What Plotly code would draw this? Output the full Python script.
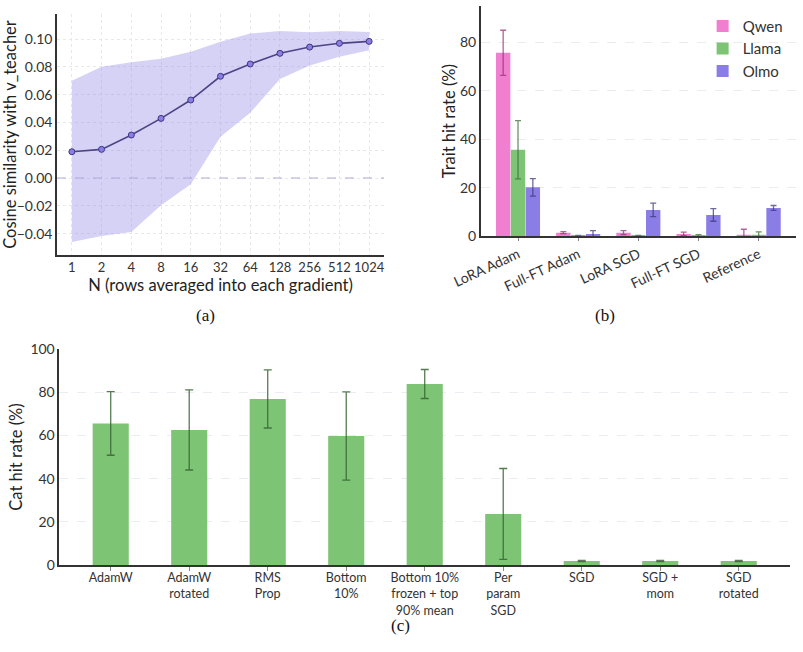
import plotly.graph_objects as go

# ---------- Panel (a) data ----------
n_labels = ["1", "2", "4", "8", "16", "32", "64", "128", "256", "512", "1024"]
cos_mean = [0.0189, 0.0206, 0.0309, 0.0429, 0.0561, 0.0732, 0.0820, 0.0897, 0.0942, 0.0969, 0.0983]
cos_upper = [0.0700, 0.0800, 0.0832, 0.0858, 0.0909, 0.0980, 0.1040, 0.1058, 0.1048, 0.1058, 0.1050]
cos_lower = [-0.0460, -0.0417, -0.0388, -0.0196, -0.0045, 0.0297, 0.0470, 0.0712, 0.0810, 0.0873, 0.0920]

# ---------- Panel (b) data ----------
b_cats = ["LoRA Adam", "Full-FT Adam", "LoRA SGD", "Full-FT SGD", "Reference"]
qwen = [75.7, 1.5, 1.5, 1.0, 0.6]
qwen_err = [9.3, 0.4, 0.8, 0.7, 2.3]
llama = [35.7, 0.2, 0.2, 0.3, 0.6]
llama_err = [12.0, 0.2, 0.2, 0.4, 1.2]
olmo = [20.2, 1.0, 10.9, 8.8, 11.7]
olmo_err = [3.6, 1.3, 2.8, 2.6, 1.0]

# ---------- Panel (c) data ----------
c_cats = ["AdamW", "AdamW<br>rotated", "RMS<br>Prop", "Bottom<br>10%",
          "Bottom 10%<br>frozen + top<br>90% mean", "Per<br>param<br>SGD",
          "SGD", "SGD +<br>mom", "SGD<br>rotated"]
cat_rate = [65.5, 62.5, 76.8, 59.7, 83.7, 23.7, 2.0, 2.0, 2.0]
cat_err = [14.7, 18.5, 13.4, 20.4, 6.7, 21.0, 0.3, 0.3, 0.3]

FONT = "Lato"
PINK = "#f07fd0"
GREEN = "#7dc574"
PURPLE = "#8a7ee6"
AXC = "#333333"

fig = go.Figure()

# (a) band
fig.add_trace(go.Scatter(x=n_labels, y=cos_lower, mode="lines", line=dict(width=0),
                         showlegend=False, hoverinfo="skip", xaxis="x", yaxis="y"))
fig.add_trace(go.Scatter(x=n_labels, y=cos_upper, mode="lines", line=dict(width=0),
                         fill="tonexty", fillcolor="rgba(138,126,230,0.35)",
                         showlegend=False, hoverinfo="skip", xaxis="x", yaxis="y"))
fig.add_trace(go.Scatter(x=n_labels, y=cos_mean, mode="lines+markers",
                         line=dict(color="#4b4585", width=1.6),
                         marker=dict(size=6, color=PURPLE, line=dict(color="#3d3780", width=1)),
                         showlegend=False, xaxis="x", yaxis="y"))

# (b) grouped bars
for name, vals, errs, col, ecol in [
    ("Qwen", qwen, qwen_err, PINK, "rgba(150,50,120,0.75)"),
    ("Llama", llama, llama_err, GREEN, "rgba(60,110,55,0.75)"),
    ("Olmo", olmo, olmo_err, PURPLE, "rgba(60,55,120,0.75)"),
]:
    fig.add_trace(go.Bar(x=b_cats, y=vals, name=name, marker=dict(color=col, line=dict(width=0)),
                         error_y=dict(type="data", array=errs, color=ecol, thickness=1.3, width=3),
                         xaxis="x2", yaxis="y2"))

# (c) bars
fig.add_trace(go.Bar(x=c_cats, y=cat_rate, marker=dict(color=GREEN, line=dict(width=0)),
                     error_y=dict(type="data", array=cat_err, color="rgba(55,100,50,0.85)",
                                  thickness=1.3, width=4),
                     width=0.46, showlegend=False, xaxis="x3", yaxis="y3"))

W, H = 803, 652
def dx(a, b):
    return [a / W, b / W]
def dy(top, bottom):
    return [1 - bottom / H, 1 - top / H]

tickfont = dict(family=FONT, size=14, color=AXC)
titlefont = dict(family=FONT, size=16.5, color="#222222")

fig.update_layout(
    width=W, height=H, margin=dict(l=0, r=0, t=0, b=0, autoexpand=False),
    paper_bgcolor="white", plot_bgcolor="white",
    font=dict(family=FONT, color=AXC),
    barmode="group", bargap=0.26, bargroupgap=0.03,
    xaxis=dict(domain=dx(57, 384), anchor="y", type="category", range=[-0.5, 10.5],
               automargin=False, tickangle=0,
               showline=True, linecolor=AXC, linewidth=1.5, ticks="",
               showgrid=True, gridcolor="#e8e8e8", griddash="dot", gridwidth=1,
               tickfont=dict(family=FONT, size=13, color=AXC),
               title=dict(text="N (rows averaged into each gradient)", font=titlefont, standoff=5)),
    yaxis=dict(domain=dy(14, 255), anchor="x", range=[-0.0554, 0.118], automargin=False,
               tickvals=[-0.04, -0.02, 0.0, 0.02, 0.04, 0.06, 0.08, 0.10], tickformat=".2f",
               showline=True, linecolor=AXC, linewidth=1.5, ticks="", zeroline=False,
               showgrid=True, gridcolor="#e8e8e8", griddash="dot", gridwidth=1,
               tickfont=tickfont, title=dict(text="Cosine similarity with v_teacher",
                                             font=titlefont, standoff=4)),
    xaxis2=dict(domain=dx(480.7, 796), anchor="y2", range=[-0.62, 4.62], automargin=False,
                showline=True, linecolor=AXC, linewidth=1.5, ticks="outside", ticklen=3,
                tickcolor="#888888", tickangle=-25, showgrid=False, tickfont=tickfont),
    yaxis2=dict(domain=dy(6, 236.3), anchor="x2", range=[0, 95], tickvals=[0, 20, 40, 60, 80],
                automargin=False,
                showline=True, linecolor=AXC, linewidth=1.5, ticks="", zeroline=False,
                showgrid=True, gridcolor="#ececec", griddash="dash", gridwidth=1,
                tickfont=tickfont, title=dict(text="Trait hit rate (%)", font=titlefont, standoff=0)),
    xaxis3=dict(domain=dx(59.3, 790), anchor="y3", range=[-0.655, 8.653], automargin=False,
                showline=True, linecolor=AXC, linewidth=1.5, ticks="outside", ticklen=4,
                tickcolor="#888888", showgrid=False, ticklabelstandoff=-4,
                tickfont=dict(family=FONT, size=12.5, color=AXC)),
    yaxis3=dict(domain=dy(348.7, 565.3), anchor="x3", range=[0, 100], automargin=False,
                tickvals=[0, 20, 40, 60, 80, 100],
                showline=True, linecolor=AXC, linewidth=1.5, ticks="", zeroline=False,
                showgrid=True, gridcolor="#ececf4", griddash="dash", gridwidth=1,
                tickfont=tickfont, title=dict(text="Cat hit rate (%)", font=titlefont, standoff=4)),
    legend=dict(x=0.875, y=0.985, xanchor="left", yanchor="top", bgcolor="rgba(0,0,0,0)",
                traceorder="normal",
                font=dict(family=FONT, size=15, color=AXC), itemwidth=30, tracegroupgap=2),
    shapes=[dict(type="line", xref="x domain", yref="y", x0=0, x1=1, y0=0, y1=0,
                 line=dict(color="#b0aad8", width=1.2, dash="dash"), layer="above")],
    annotations=[
        dict(text="(a)", x=194 / W, y=1 - 315 / H, xref="paper", yref="paper", showarrow=False,
             font=dict(family="Liberation Serif", size=17, color="#111")),
        dict(text="(b)", x=617 / W, y=1 - 315 / H, xref="paper", yref="paper", showarrow=False,
             font=dict(family="Liberation Serif", size=17, color="#111")),
        dict(text="(c)", x=400 / W, y=1 - 637 / H, xref="paper", yref="paper", showarrow=False,
             font=dict(family="Liberation Serif", size=17, color="#111")),
    ],
)

fig.write_html("out.html")
